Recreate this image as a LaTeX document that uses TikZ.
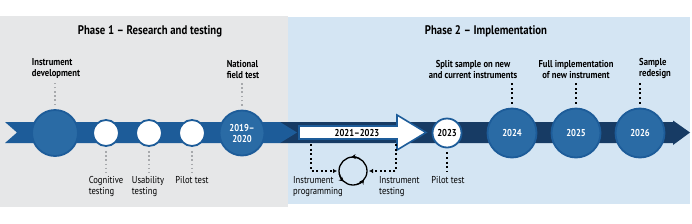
\documentclass[tikz,border=0pt]{standalone}
\usepackage{fontspec}
\setmainfont{PT Sans}[FakeStretch=0.86]
\usepackage{xcolor}
\usetikzlibrary{arrows.meta,positioning}

\definecolor{phaseonebg}{HTML}{E6E7E8}
\definecolor{phasetwobg}{HTML}{D4E5F3}
\definecolor{bandblue}{HTML}{1D5C99}
\definecolor{banddark}{HTML}{173B64}
\definecolor{dotblue}{HTML}{2A6BA5}
\definecolor{dotgray}{HTML}{A7A9AC}

\tikzset{
  bigdot/.style={circle,fill=dotblue,draw=bandblue,line width=1.8pt,minimum size=46pt,
    inner sep=0pt,text=white,font=\fontsize{10}{11}\selectfont\bfseries,align=center},
  smalldot/.style={circle,fill=white,draw=bandblue,line width=1.8pt,minimum size=26pt,
    inner sep=0pt,font=\fontsize{10}{11}\selectfont\bfseries},
  toplbl/.style={font=\fontsize{10}{11}\selectfont\bfseries,inner sep=0pt},
  sublbl/.style={font=\fontsize{10}{11}\selectfont,inner sep=0pt,align=left},
  phasetitle/.style={font=\fontsize{12.5}{14}\selectfont\bfseries,inner sep=0pt},
  graydots/.style={dotgray,line width=1.6pt,dash pattern=on 1.6pt off 2.6pt},
  blackdots/.style={black,line width=2pt,dash pattern=on 2pt off 2.6pt},
}

\begin{document}
\begin{tikzpicture}[x=1pt,y=-1pt]
  \useasboundingbox (0,0) rectangle (692,223);
  % panels
  \fill[phaseonebg] (0,16) rectangle (288,207);
  \fill[phasetwobg] (288,17) rectangle (690,204);
  \node[phasetitle] (titleone) at (150,31) {Phase 1 -- Research and testing};
  \node[phasetitle] (titletwo) at (486,31) {Phase 2 -- Implementation};

  % time bands
  \fill[banddark] (280,122) -- (673,122) -- (673,120.5) -- (690,132.5)
    -- (673,145) -- (673,143) -- (280,143) -- cycle;
  \fill[bandblue] (5,122) -- (280,122) -- (297,132.5) -- (280,143)
    -- (5,143) -- (17,132.5) -- cycle;

  % phase 1
  \node[bigdot] (dev) at (55,133) {};
  \node[smalldot] (cog) at (106,133) {};
  \node[smalldot] (usa) at (149,133) {};
  \node[smalldot] (pilotone) at (192,133) {};
  \node[bigdot,minimum size=45pt] (nft) at (242,133) {2019--\\2020};

  \node[toplbl,align=left,anchor=south] (devlbl) at (56,79) {Instrument\\development};
  \node[toplbl,align=left,anchor=south] (nftlbl) at (243,79) {National\\field test};
  \node[sublbl,anchor=north] (coglbl) at (106,176) {Cognitive\\testing};
  \node[sublbl,anchor=north] (usalbl) at (148,176) {Usability\\testing};
  \node[sublbl,anchor=north] (pilotonelbl) at (192,176) {Pilot test};

  \draw[graydots,shorten <=4pt,shorten >=3pt] (dev.north) -- (dev.north |- devlbl.south);
  \draw[graydots,shorten <=4pt,shorten >=3pt] (nft.north) -- (nft.north |- nftlbl.south);
  \draw[graydots,shorten <=4pt,shorten >=4pt] (cog.south) -- (cog.south |- coglbl.north);
  \draw[graydots,shorten <=4pt,shorten >=4pt] (usa.south) -- (usa.south |- usalbl.north);
  \draw[graydots,shorten <=4pt,shorten >=4pt] (pilotone.south) -- (pilotone.south |- pilotonelbl.north);

  % phase 2
  \draw[fill=white,draw=bandblue,line width=1.6pt] (299,126) -- (397,126) -- (397,115)
    -- (426,132.5) -- (397,150) -- (397,139) -- (299,139) -- cycle;
  \node[toplbl] (prog) at (357,133) {2021--2023};
  \node[smalldot,minimum size=29pt] (pilottwo) at (447,133) {2023};
  \node[bigdot,minimum size=49pt] (y24) at (512,133) {2024};
  \node[bigdot,minimum size=49pt] (y25) at (576,133) {2025};
  \node[bigdot,minimum size=49pt] (y26) at (640,133) {2026};

  \node[toplbl,align=center,anchor=south] (y24lbl) at (473,79) {Split sample on new\\and current instruments};
  \node[toplbl,align=center,anchor=south] (y25lbl) at (576,79) {Full implementation\\of new instrument};
  \node[toplbl,align=left,anchor=south west] (y26lbl) at (639,79) {Sample\\redesign};
  \node[sublbl,anchor=north] (pilottwolbl) at (448,176) {Pilot test};
  \node[sublbl,anchor=north west] (proglbl) at (293,176) {Instrument\\programming};
  \node[sublbl,anchor=north west] (testlbl) at (379,176) {Instrument\\testing};

  \draw[blackdots,shorten <=4pt,shorten >=3pt] (y24.north) -- (y24.north |- y24lbl.south);
  \draw[blackdots,shorten <=4pt,shorten >=3pt] (y25.north) -- (y25.north |- y25lbl.south);
  \draw[blackdots,shorten <=4pt,shorten >=3pt] (y26.north) -- (y26.north |- y26lbl.south);
  \draw[blackdots,shorten <=4pt,shorten >=5pt] (pilottwo.south) -- (pilottwo.south |- pilottwolbl.north);

  % programming / testing cycle
  \node[circle,draw,line width=1.3pt,minimum size=28pt,inner sep=0pt,outer sep=0pt] (cyc) at (353,171) {};
  \coordinate (progtop) at (311,144);
  \coordinate (testtop) at (396,144);
  \draw[blackdots,-{Latex[length=4pt,width=4.5pt]},shorten >=2pt] (progtop) |- (cyc.west);
  \draw[blackdots,-{Latex[length=4pt,width=4.5pt]},shorten >=2pt] (testtop) |- (cyc.east);
  \begin{scope}[x=1pt,y=1pt,line width=1.3pt]
    \draw[-{Stealth[length=4.5pt,width=5pt]}] (cyc.60) arc[start angle=60,end angle=97,radius=14pt];
    \draw[-{Stealth[length=4.5pt,width=5pt]}] (cyc.190) arc[start angle=190,end angle=228,radius=14pt];
    \draw[-{Stealth[length=4.5pt,width=5pt]}] (cyc.285) arc[start angle=285,end angle=322,radius=14pt];
  \end{scope}
\end{tikzpicture}
\end{document}
